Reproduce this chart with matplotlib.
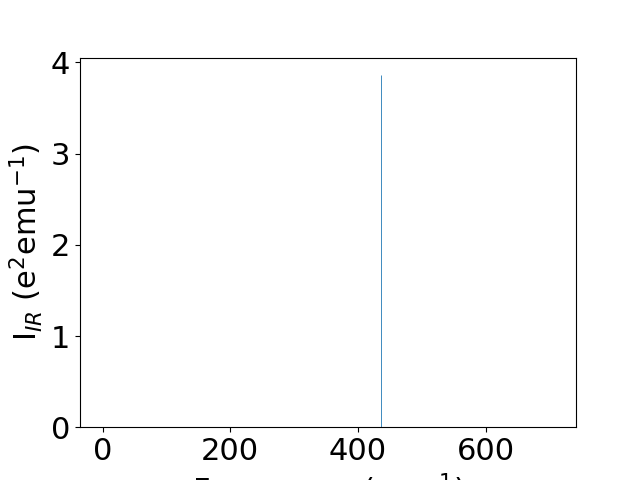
import matplotlib
matplotlib.use('Agg')
import matplotlib.pyplot as plt

# IR spectrum: single active mode over the scanned range
freq_range = [0, 706]
peak_freq = [436]
peak_intensity = [3.86]

plt.rcParams['font.size'] = 22
fig, ax = plt.subplots(figsize=(6.4, 4.8), dpi=100)
ax.vlines(peak_freq, 0, peak_intensity, color='tab:blue', linewidth=0.6)
pad = 0.05 * (freq_range[1] - freq_range[0])
ax.set_xlim(freq_range[0] - pad, freq_range[1] + pad)
ax.set_ylim(0, 1.05 * max(peak_intensity))
ax.set_xlabel('Frequency (cm$^{-1}$)')
ax.set_ylabel('I$_{IR}$ (e$^{2}$emu$^{-1}$)')
fig.savefig('out.png', dpi=100)
